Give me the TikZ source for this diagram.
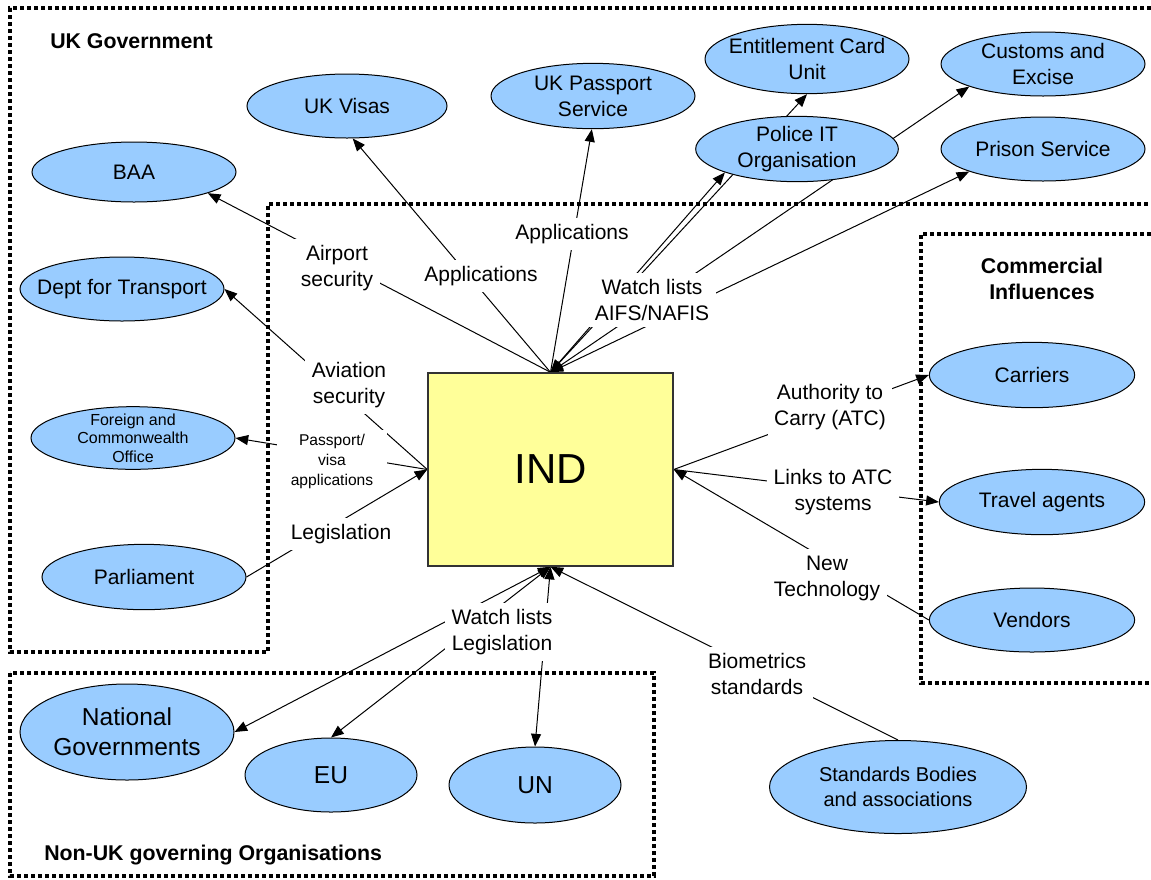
\documentclass[tikz,border=0pt]{standalone}
\usepackage{fontspec}
\setmainfont{Liberation Sans}
\usetikzlibrary{shapes.geometric,arrows.meta}
\definecolor{orgblue}{HTML}{99CCFF}
\definecolor{indyellow}{HTML}{FFFF99}
\pgfdeclarelayer{bg}
\pgfdeclarelayer{conn}
\pgfsetlayers{bg,conn,main}
\begin{document}
\begin{tikzpicture}[x=0.75pt,y=-0.75pt,
  org/.style={ellipse,draw=black,line width=0.75pt,fill=orgblue,inner sep=0pt},
  otext/.style={align=center,inner sep=0pt,font=\fontsize{15.75}{19.5}\selectfont},
  otextbig/.style={align=center,inner sep=0pt,font=\fontsize{18.4}{22.5}\selectfont},
  otextsmall/.style={align=center,inner sep=0pt,font=\fontsize{12}{14}\selectfont},
  lab/.style={fill=white,inner sep=5pt,align=center,font=\fontsize{15.75}{19.5}\selectfont},
  grp/.style={font=\bfseries\fontsize{16}{19.5}\selectfont,inner sep=0pt,align=center},
  bound/.style={line width=3pt,dash pattern=on 3pt off 2.25pt},
  conn/.style={line width=0.75pt},
  toarr/.style={-{Triangle[length=9.5pt,width=7.5pt]}},
  botharr/.style={{Triangle[length=9.5pt,width=7.5pt]}-{Triangle[length=9.5pt,width=7.5pt]}}
]
\useasboundingbox (0,0) rectangle (1151,879);

% ---------- organisations ----------
\node[org,minimum width=153pt,minimum height=45pt,label={[otext]center:BAA}] (baa) at (134,172) {};
\node[org,minimum width=153pt,minimum height=48pt,label={[otext]center:Dept for Transport}] (dft) at (122,289) {};
\node[org,minimum width=153pt,minimum height=47pt,label={[otextsmall]center:Foreign and\\Commonwealth\\Office}] (fco) at (133,438) {};
\node[org,minimum width=153pt,minimum height=49pt,label={[otext]center:Parliament}] (parl) at (144,577) {};
\node[org,minimum width=150pt,minimum height=48pt,label={[otext]center:UK Visas}] (ukvisas) at (347,106) {};
\node[org,minimum width=153pt,minimum height=49pt,label={[otext]center:UK Passport\\Service}] (ukpass) at (593,96) {};
\node[org,minimum width=153pt,minimum height=52pt,label={[otext]center:Entitlement Card\\Unit}] (ecu) at (807,59) {};
\node[org,minimum width=153pt,minimum height=48pt,label={[otext]center:Customs and\\Excise}] (customs) at (1043,64) {};
\node[org,minimum width=152pt,minimum height=49pt,label={[otext]center:Police IT\\Organisation}] (police) at (797,149) {};
\node[org,minimum width=153pt,minimum height=48pt,label={[otext]center:Prison Service}] (prison) at (1043,149) {};
\node[org,minimum width=154pt,minimum height=49pt,label={[otext]center:Carriers}] (carriers) at (1032,375) {};
\node[org,minimum width=154pt,minimum height=49pt,label={[otext]center:Travel agents}] (travel) at (1042,502) {};
\node[org,minimum width=154pt,minimum height=48pt,label={[otext]center:Vendors}] (vendors) at (1032,620) {};
\node[org,minimum width=160.5pt,minimum height=72pt,label={[otextbig]center:National\\Governments}] (natgov) at (127,732) {};
\node[org,minimum width=129pt,minimum height=55.5pt,label={[otextbig]center:EU}] (eu) at (331,775) {};
\node[org,minimum width=129pt,minimum height=57pt,label={[otextbig]center:UN}] (un) at (535,785) {};
\node[org,minimum width=192.75pt,minimum height=69.75pt,label={[align=center,inner sep=0pt,font=\fontsize{15}{18.75}\selectfont]center:Standards Bodies\\and associations}] (standards) at (898,787) {};

% ---------- IND ----------
\node[draw=black!80,line width=1.1pt,fill=indyellow,minimum width=183.75pt,minimum height=144.75pt,inner sep=0pt,font=\fontsize{31.5}{38}\selectfont] (ind) at (550.5,469.5) {IND};

% ---------- group titles ----------
\node[grp,anchor=west] (ukgov) at (50,41) {UK Government};
\node[grp] (comm) at (1042,279) {Commercial\\Influences};
\node[grp,anchor=west] (nonuk) at (44,855) {Non-UK governing Organisations};

% ---------- connector labels ----------
\node[lab] (lairport) at (337,268) {Airport\\security};
\node[lab] (lapps1) at (481,276) {Applications};
\node[lab] (lapps2) at (572,234) {Applications};
\node[lab] (lwatch1) at (652,300) {Watch lists\\AIFS/NAFIS};
\node[lab] (lavi) at (349,385) {Aviation\\security};
\node[lab,inner xsep=10pt,inner ysep=3pt,font=\fontsize{11.7}{15}\selectfont] (lpass) at (332,461) {Passport/\\visa\\applications};
\node[lab] (llegis) at (341,534) {Legislation};
\node[lab] (latc) at (830,407) {Authority to\\Carry (ATC)};
\node[lab] (llinks) at (833,492) {Links to ATC\\systems};
\node[lab] (lnew) at (827,578) {New\\Technology};
\node[lab] (lwatch2) at (502,632) {Watch lists\\Legislation};
\node[lab] (lbio) at (757,674) {Biometrics\\standards};

% ---------- connectors ----------
\begin{pgfonlayer}{conn}
\draw[conn,toarr] (ind.north) -- (baa.344);
\draw[conn,toarr] (ind.north) -- (ukvisas.280);
\draw[conn,toarr] (ind.north) -- (ukpass.268);
\draw[conn,botharr] (ind.north) -- (police.198);
\draw[conn,botharr] (ind.north) -- (ecu.south);
\draw[conn,botharr] (ind.north) -- (customs.197);
\draw[conn,botharr] (ind.north) -- (prison.197);
\draw[conn,toarr] (ind.west) -- (dft.east);
\draw[conn,toarr] (ind.west) -- (fco.east);
\draw[conn,toarr] (parl.east) -- (ind.west);
\draw[conn,toarr] (ind.east) -- (carriers.west);
\draw[conn,toarr] (ind.east) -- (travel.west);
\draw[conn,toarr] (vendors.west) -- (ind.east);
\draw[conn,toarr] (standards.north) -- (ind.south);
\draw[conn,botharr] (ind.south) -- (natgov.east);
\draw[conn,botharr] (ind.south) -- (eu.north);
\draw[conn,botharr] (ind.south) -- (un.north);
\end{pgfonlayer}

% ---------- boundaries ----------
\begin{pgfonlayer}{bg}
\draw[bound] (1151,8) -- (10,8) -- (10,652) -- (268,652) -- (268,204) -- (1151,204);
\draw[bound] (1151,234) -- (921,234) -- (921,683) -- (1151,683);
\draw[bound] (10,673) rectangle (654,876);
\end{pgfonlayer}
\end{tikzpicture}
\end{document}
